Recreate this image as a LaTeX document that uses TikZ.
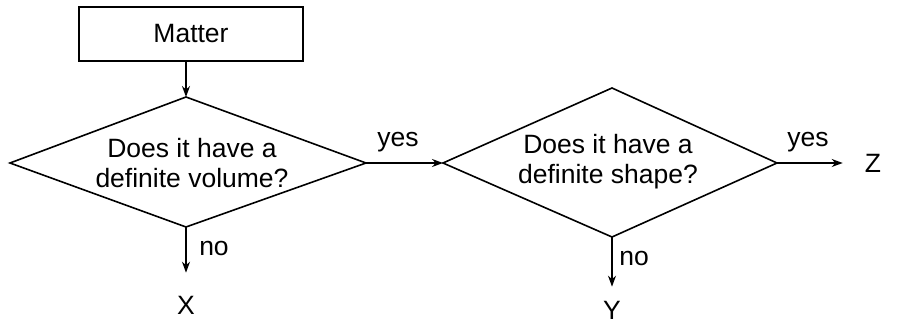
\documentclass[tikz,border=0pt]{standalone}
\usepackage{fontspec}
\setmainfont{Liberation Sans}
\usetikzlibrary{arrows.meta}
\begin{document}
\begin{tikzpicture}[x=1pt,y=-1pt,
  every node/.style={font=\fontsize{26.5}{30}\selectfont},
  boxnode/.style={draw, line width=1.6pt, minimum width=224pt, minimum height=54pt, inner sep=0pt},
  shapeline/.style={draw, line width=1.6pt, line join=miter},
  qtext/.style={align=center, inner sep=0pt},
  endnode/.style={inner sep=3pt},
  lbl/.style={inner sep=0pt},
  arr/.style={line width=1.6pt, -{Stealth[length=11pt,width=8pt]}}]
\useasboundingbox (0,0) rectangle (911,323);
\node[boxnode] (m) at (191,34) {Matter};
% decision 1
\coordinate (d1w) at (10,163);
\coordinate (d1n) at (186,97);
\coordinate (d1e) at (366,163);
\coordinate (d1s) at (186,227);
\path[shapeline] (d1w) -- (d1n) -- (d1e) -- (d1s) -- cycle;
\node[qtext] (q1) at (192,163) {Does it have a\\definite volume?};
% decision 2
\coordinate (d2w) at (443,163);
\coordinate (d2n) at (612,88);
\coordinate (d2e) at (777,163);
\coordinate (d2s) at (612,237);
\path[shapeline] (d2w) -- (d2n) -- (d2e) -- (d2s) -- cycle;
\node[qtext] (q2) at (608,162) {Does it have a\\definite shape?};
\node[endnode] (x) at (186,305) {X};
\node[endnode] (y) at (612,310) {Y};
\node[endnode] (z) at (873,163) {Z};
\draw[arr] (d1n |- m.south) -- (d1n);
\draw[arr] (d1e) -- (d2w);
\draw[arr, shorten >=19pt] (d2e) -- (z.west);
\draw[arr, shorten >=20pt] (d1s) -- (d1s |- x.north);
\draw[arr, shorten >=11pt] (d2s) -- (d2s |- y.north);
\node[lbl] (yes1) at (398,142) {yes};
\node[lbl] (yes2) at (808,142) {yes};
\node[lbl] (no1) at (214,249) {no};
\node[lbl] (no2) at (634,259) {no};
\end{tikzpicture}
\end{document}
